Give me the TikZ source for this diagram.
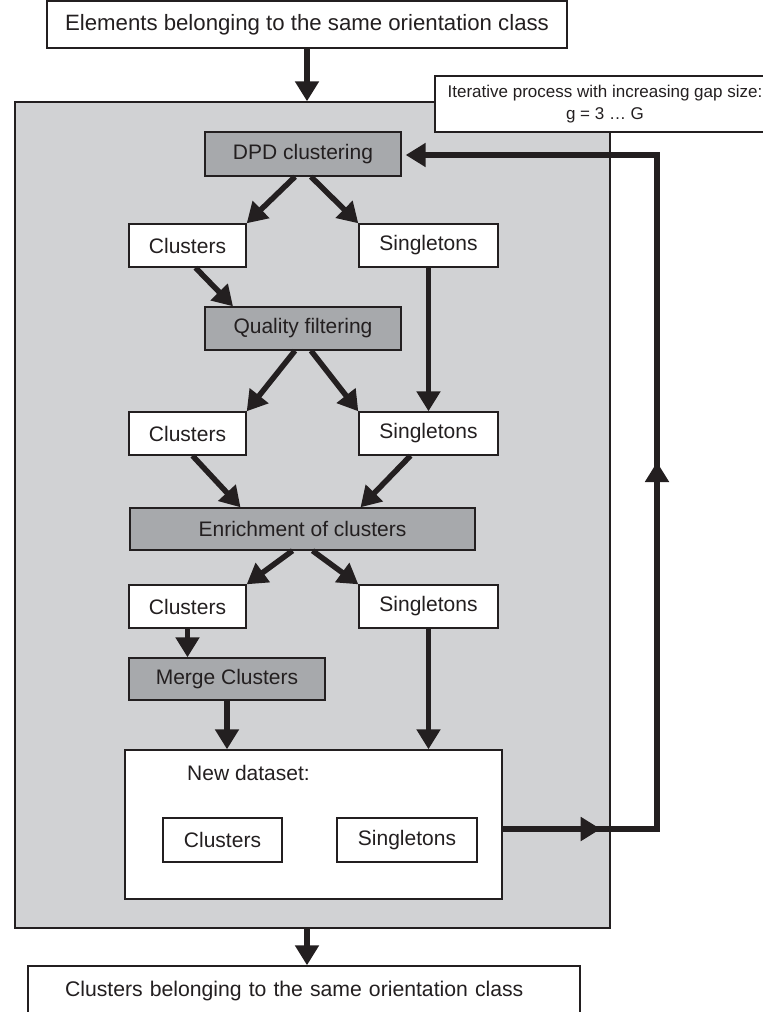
\documentclass[tikz,border=0pt]{standalone}
\usepackage{fontspec}
\setmainfont{Liberation Sans}
\usetikzlibrary{arrows.meta}
\definecolor{bgray}{HTML}{D1D2D4}
\definecolor{dgray}{HTML}{A7A9AC}
\definecolor{ink}{HTML}{231F20}
\begin{document}
\begin{tikzpicture}[x=1pt,y=-1pt,
 box/.style={draw=ink, line width=1.4pt, fill=white, inner sep=0pt, font=\fontsize{21}{25}\selectfont, text=ink},
 proc/.style={box, fill=dgray},
 flow/.style={draw=ink, line width=5.5pt, -{Triangle[length=20pt,width=23pt]}},
 plain/.style={draw=ink, line width=5.5pt, line join=miter}]
\useasboundingbox (0,0) rectangle (763,1012);
% outer gray region
\node[draw=ink, line width=1.4pt, fill=bgray, minimum width=595pt, minimum height=826pt, inner sep=0pt] (outer) at (312.5,515) {};
% top and bottom boxes
\node[box, minimum width=520pt, minimum height=47pt, font=\fontsize{22.2}{26}\selectfont] (top) at (307,24.5) {Elements belonging to the same orientation class};
\node[box, minimum width=552pt, minimum height=50pt, text width=478pt, align=left, font=\fontsize{21.2}{25}\selectfont] (bot) at (304,991) {Clusters belonging to the same orientation class};
% iterative note
\node[box, minimum width=340pt, minimum height=56pt, align=center, font=\fontsize{17}{22}\selectfont] (iter) at (605,104) {Iterative process with increasing gap size:\\ g = 3 \dots{} G};
% process boxes
\node[proc, minimum width=196pt, minimum height=44pt] (dpd) at (303,154) {DPD clustering};
\node[box, minimum width=117pt, minimum height=43pt] (c1) at (187.5,245.5) {Clusters};
\node[box, minimum width=139pt, minimum height=43pt] (s1) at (428.5,245.5) {Singletons};
\node[proc, minimum width=196pt, minimum height=43pt] (q) at (303,328.5) {Quality filtering};
\node[box, minimum width=117pt, minimum height=43pt] (c2) at (187.5,433.5) {Clusters};
\node[box, minimum width=139pt, minimum height=43pt] (s2) at (428.5,433.5) {Singletons};
\node[proc, minimum width=345pt, minimum height=42pt] (enr) at (302.5,529) {Enrichment of clusters};
\node[box, minimum width=117pt, minimum height=43pt] (c3) at (187.5,606.5) {Clusters};
\node[box, minimum width=139pt, minimum height=43pt] (s3) at (428.5,606.5) {Singletons};
\node[proc, minimum width=196pt, minimum height=42pt] (m) at (227,679) {Merge Clusters};
% new dataset
\node[box, minimum width=377pt, minimum height=149pt] (nd) at (313.5,824.5) {};
\node[anchor=west, inner sep=0pt, font=\fontsize{21}{25}\selectfont, text=ink] (ndl) at (187,773) {New dataset:};
\node[box, minimum width=119pt, minimum height=44pt] (ndc) at (222.5,840) {Clusters};
\node[box, minimum width=140pt, minimum height=44pt] (nds) at (407,840) {Singletons};
% arrows
\draw[flow] (top.south) -- (top.south |- outer.north);
\draw[flow] ([xshift=-8pt]dpd.south) -- (c1.north east);
\draw[flow] ([xshift=8pt]dpd.south) -- (s1.north west);
\draw[flow] ([xshift=8pt]c1.south) -- ([xshift=-70pt]q.north);
\draw[flow] (s1.south) -- (s2.north);
\draw[flow] ([xshift=-8pt]q.south) -- (c2.north east);
\draw[flow] ([xshift=8pt]q.south) -- (s2.north west);
\draw[flow] ([xshift=5pt]c2.south) -- ([xshift=-62pt]enr.north);
\draw[flow] ([xshift=-18pt]s2.south) -- ([xshift=58pt]enr.north);
\draw[flow] ([xshift=-10pt]enr.south) -- (c3.north east);
\draw[flow] ([xshift=10pt]enr.south) -- (s3.north west);
\draw[flow] (c3.south) -- (c3.south |- m.north);
\draw[flow] (m.south) -- (m.south |- nd.north);
\draw[flow] (s3.south) -- (s3.south |- nd.north);
\draw[flow] ([xshift=-5.5pt]outer.south) -- ([xshift=-5.5pt]outer.south |- bot.north);
% feedback loop
\coordinate (r1) at (657,829);
\coordinate (r2) at (657,155);
\draw[flow, line join=miter, shorten >=4pt] (nd.east |- r1) -- (r1) -- (r2) -- (dpd.east |- r2);
\draw[flow] (nd.east |- r1) -- ([xshift=98pt]nd.east |- r1);
\draw[flow] (r1) -- ([yshift=367pt]r1);
\end{tikzpicture}
\end{document}
